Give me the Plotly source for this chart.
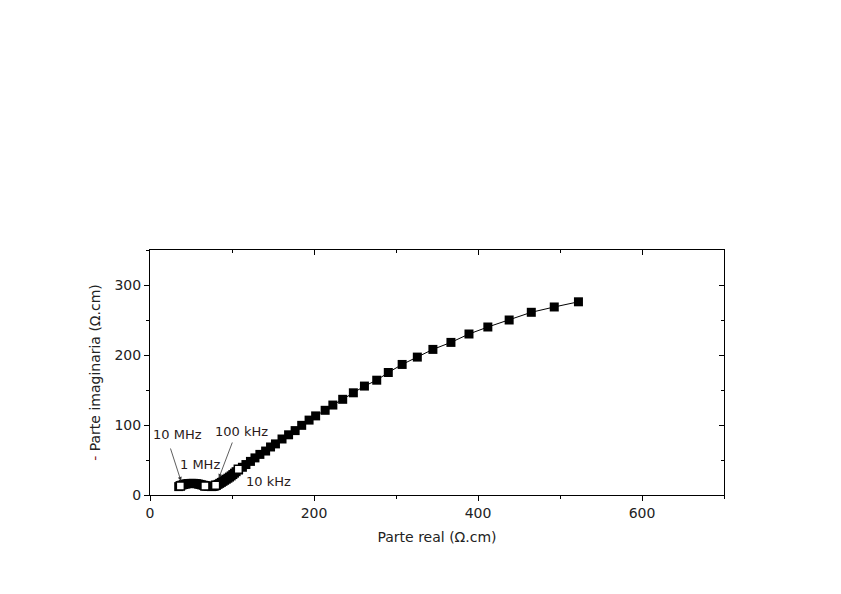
import plotly.graph_objects as go

# impedance spectrum (ohm.cm)
z_real = [35, 37, 39, 41, 43, 45, 47, 49, 51, 53, 55, 57, 59, 61, 63, 65, 67, 69,
          71, 73, 75, 77, 79, 81, 83, 85, 87, 89, 91, 93, 95, 97, 99, 101, 103, 105,
          108, 112.7, 117, 122.5, 128, 134, 141, 147, 153, 161, 169, 177, 185, 194,
          202, 213.6, 223, 235, 248, 261.5, 276.5, 290.6, 307.5, 326, 345, 367, 389,
          412, 438, 465, 493, 522.5]
z_imag = [12, 13.2, 14.2, 15, 15.6, 16, 16.3, 16.5, 16.6, 16.6, 16.4, 16.1, 15.6,
          15.1, 14.5, 13.9, 13.3, 12.8, 12.4, 12.1, 12, 12.2, 12.7, 13.8, 15.2, 16.6,
          18, 19.5, 21, 22.5, 24, 25.6, 27.3, 29.2, 31.2, 33.3, 35.7, 39.6, 43.5, 48,
          53, 58, 62.8, 68.6, 73, 80, 86, 92, 99.5, 107, 113, 121, 128.5, 136.7, 146,
          155.6, 164, 175, 186.5, 197, 208, 218, 230, 240, 250, 261, 268.6, 276]

# decade frequencies (open squares)
dec_real = [37, 67, 80, 107.7]
dec_imag = [12.8, 12.8, 13.8, 36.7]
dec_labels = ["10 MHz", "1 MHz", "100 kHz", "10 kHz"]
label_x = [33, 61, 111, 144]
label_y = [87, 44, 91, 18.6]

FONT = "DejaVu Sans"

fig = go.Figure()
fig.add_trace(go.Scatter(
    x=z_real, y=z_imag, mode="lines+markers",
    line=dict(color="black", width=1),
    marker=dict(symbol="square", size=9, color="black"),
    showlegend=False))
fig.add_trace(go.Scatter(
    x=dec_real, y=dec_imag, mode="markers",
    marker=dict(symbol="square", size=8, color="white", line=dict(color="black", width=1.5)),
    showlegend=False))

for t, lx, ly in zip(dec_labels, label_x, label_y):
    fig.add_annotation(x=lx, y=ly, text=t, showarrow=False,
                       font=dict(family=FONT, size=13, color="#2a1a1a"))

# arrows for 10 MHz and 100 kHz
fig.add_annotation(x=37.8, y=20, ax=-11, ay=-34, text="", showarrow=True,
                   arrowhead=2, arrowsize=1, arrowwidth=0.8, arrowcolor="#333")
fig.add_annotation(x=84, y=24.3, ax=14, ay=-37, text="", showarrow=True,
                   arrowhead=2, arrowsize=1, arrowwidth=0.8, arrowcolor="#333")

axis_font = dict(family=FONT, size=14, color="#222")
fig.update_layout(
    width=841, height=594,
    paper_bgcolor="white", plot_bgcolor="white",
    margin=dict(l=142, r=125, t=242, b=107),
    font=dict(family=FONT),
    xaxis=dict(range=[0, 700], dtick=200, ticks="outside", ticklen=5,
               tickcolor="black", showline=True, linecolor="black", linewidth=1,
               showgrid=False, zeroline=False, tickfont=axis_font,
               minor=dict(dtick=100, ticks="outside", ticklen=3, tickcolor="black"),
               title=dict(text="Parte real (Ω.cm)", font=axis_font, standoff=12)),
    yaxis=dict(range=[0, 350], dtick=100, ticks="outside", ticklen=5,
               tickcolor="black", showline=True, linecolor="black", linewidth=1,
               showgrid=False, zeroline=False, tickfont=axis_font,
               minor=dict(dtick=50, ticks="outside", ticklen=3, tickcolor="black"),
               title=dict(text="<span style='color:#8b1a1a'>-</span> Parte imaginaria (Ω.cm)",
                          font=axis_font, standoff=10)),
    xaxis2=dict(range=[0, 700], dtick=200, overlaying="x", side="top", anchor="y",
                ticks="inside", ticklen=5, tickcolor="black", showticklabels=False,
                showline=True, linecolor="black", linewidth=1, showgrid=False,
                zeroline=False,
                minor=dict(dtick=100, ticks="inside", ticklen=3, tickcolor="black")),
    yaxis2=dict(range=[0, 350], dtick=100, overlaying="y", side="right", anchor="x",
                ticks="inside", ticklen=5, tickcolor="black", showticklabels=False,
                showline=True, linecolor="black", linewidth=1, showgrid=False,
                zeroline=False,
                minor=dict(dtick=50, ticks="inside", ticklen=3, tickcolor="black")),
)
# invisible trace so the mirror axes are drawn
fig.add_trace(go.Scatter(x=[None], y=[None], xaxis="x2", yaxis="y2",
                         showlegend=False, hoverinfo="skip"))

fig.write_html("out.html")
